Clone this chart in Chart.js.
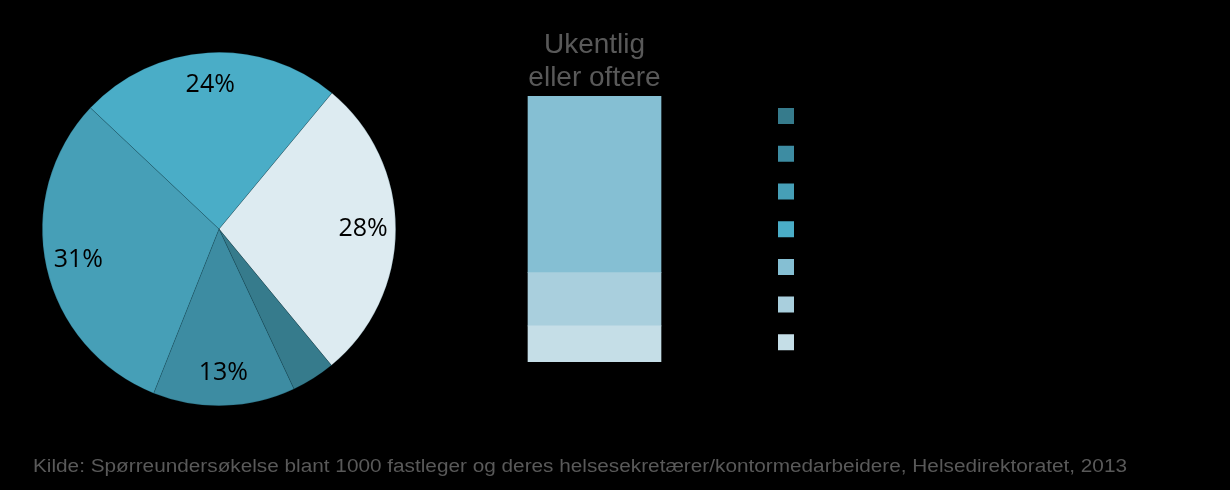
<!DOCTYPE html>
<html>
<head>
<meta charset="utf-8">
<script src="https://cdn.jsdelivr.net/npm/chart.js@4/dist/chart.umd.min.js"></script>
<style>
  html, body { margin: 0; padding: 0; background: #000; }
  body { width: 1230px; height: 490px; position: relative; overflow: hidden; }
  canvas { position: absolute; top: 0; }
  #pie { left: 0; }
  #bar { left: 400px; }
  #source {
    position: absolute; left: 33px; top: 457px;
    font: 18px "Liberation Sans", Arial, sans-serif; line-height: 18px;
    color: #595959; white-space: nowrap; transform-origin: 0 0;
  }
</style>
</head>
<body>
<canvas id="pie" width="440" height="490"></canvas>
<canvas id="bar" width="422" height="490"></canvas>
<div id="source">Kilde: Spørreundersøkelse blant 1000 fastleger og deres helsesekretærer/kontormedarbeidere, Helsedirektoratet, 2013</div>
<script>
// pie: share of respondents, clockwise from the "Ukentlig eller oftere" slice
const pieValues = [28, 4, 13, 31, 24];
const pieColors = ['#DDEBF1', '#367B8C', '#3D8CA2', '#469FB7', '#4AADC7'];

// breakdown of the 28% slice, bottom to top
const barCategory = ['Ukentlig eller oftere'];
const barValues = [3.8, 5.6, 18.6];
const barColors = ['#C5DEE7', '#A9CFDD', '#85BFD3'];

const pieLabelPlugin = {
    id: 'pieLabels',
    afterDatasetsDraw(chart) {
        const ctx = chart.ctx;
        const arcs = chart.getDatasetMeta(0).data;
        ctx.save();
        ctx.font = '25px "Open Sans", sans-serif';
        ctx.fillStyle = '#000';
        ctx.textAlign = 'center';
        ctx.textBaseline = 'middle';
        arcs.forEach((arc, i) => {
            const v = pieValues[i];
            if (v < 5) return; // small slice has no label
            const mid = (arc.startAngle + arc.endAngle) / 2;
            const r = arc.outerRadius * 0.815;
            ctx.fillText(v + '%', arc.x + Math.cos(mid) * r, arc.y + Math.sin(mid) * r);
        });
        ctx.restore();
    }
};

new Chart(document.getElementById('pie'), {
    type: 'pie',
    data: {
        labels: pieValues.map(v => v + '%'),
        datasets: [{
            data: pieValues,
            backgroundColor: pieColors,
            borderColor: 'rgba(0, 40, 50, 0.3)',
            borderWidth: 0.6
        }]
    },
    options: {
        responsive: false,
        animation: false,
        rotation: 39.7,
        layout: { padding: { left: 42, top: 52, right: 44, bottom: 84 } },
        plugins: {
            legend: { display: false },
            tooltip: { enabled: false }
        }
    },
    plugins: [pieLabelPlugin]
});

// legend colours: the four other pie slices, then the bar parts top to bottom
const legendColors = pieColors.slice(1).concat(barColors.slice().reverse());

new Chart(document.getElementById('bar'), {
    type: 'bar',
    data: {
        labels: barCategory,
        datasets: barValues.map((v, i) => ({
            data: [v],
            backgroundColor: barColors[i],
            borderWidth: 0,
            barThickness: 133
        }))
    },
    options: {
        responsive: false,
        animation: false,
        layout: { padding: { left: 12.7, top: 0, right: 0, bottom: 128 } },
        scales: {
            x: { stacked: true, display: false },
            y: { stacked: true, display: false, min: 0, max: 28 }
        },
        plugins: {
            tooltip: { enabled: false },
            title: {
                display: true,
                fullSize: false,
                text: ['Ukentlig', 'eller oftere'],
                color: '#595959',
                font: { family: '"Liberation Sans", Arial, sans-serif', size: 28, weight: 'normal', lineHeight: 1.2 },
                padding: { top: 28, bottom: 0.8 }
            },
            legend: {
                position: 'right',
                align: 'end',
                fullSize: false,
                labels: {
                    boxWidth: 16,
                    boxHeight: 16,
                    padding: 1.7,
                    color: '#000',
                    // tall empty label rows give the wide spacing between boxes
                    font: { size: 36 },
                    generateLabels: () => legendColors.map(c => ({
                        text: '',
                        fillStyle: c,
                        strokeStyle: c,
                        lineWidth: 0,
                        hidden: false
                    }))
                }
            }
        }
    }
});

// fit the source line to its width in the reference
const src = document.getElementById('source');
src.style.transform = 'scaleX(' + (1094 / src.getBoundingClientRect().width) + ')';
</script>
</body>
</html>
